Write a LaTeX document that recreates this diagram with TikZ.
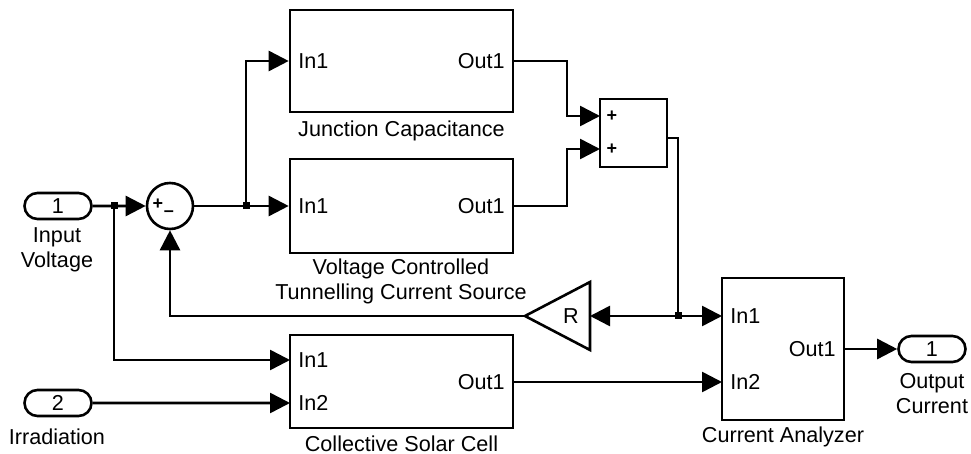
\documentclass[tikz,border=0pt]{standalone}
\usepackage{fontspec}
\setmainfont{Liberation Sans}
\usetikzlibrary{arrows.meta,shapes.misc}
\newcommand{\sigfont}{\fontsize{10.8}{12.5}\selectfont}

\begin{document}
\begin{tikzpicture}[x=0.5pt,y=-0.5pt,
    blk/.style={draw,line width=1.3pt,inner sep=0pt},
    port/.style={rounded rectangle,draw,line width=1.3pt,minimum width=33.5pt,minimum height=13pt,inner sep=0pt,font=\sigfont},
    sumc/.style={circle,draw,line width=1.3pt,minimum size=23pt,inner sep=0pt},
    pin/.style={inner sep=0pt,font=\sigfont},
    blkcap/.style={align=center,inner sep=0pt,font=\sigfont},
    sgn/.style={inner sep=0pt,font=\fontsize{9}{9}\selectfont\bfseries},
    dot/.style={fill,minimum size=3.5pt,inner sep=0pt},
    wire/.style={line width=1.3pt},
    sig/.style={wire,-{Triangle[length=10pt,width=10pt]}}
  ]
    \useasboundingbox (0,0) rectangle (971,454);
    % sources and sink
    \node[port] (vin) at (58,206) {1};
    \node[blkcap] (vinlbl) at (57,250) {Input\\Voltage};
    \node[port] (irr) at (58,403) {2};
    \node[blkcap] (irrlbl) at (57,437) {Irradiation};
    \node[port] (iout) at (932,349) {1};
    \node[blkcap] (ioutlbl) at (932,394) {Output\\Current};
    % sum of input and feedback
    \node[sumc] (sum) at (170,206) {};
    \node[sgn] (sumplus) at (158,204) {+};
    \node[sgn] (summinus) at (169,214) {--};
    % subsystems
    \node[blk,minimum width=111.5pt,minimum height=51pt] (jcap) at (401.5,61) {};
    \node[pin,anchor=west] (jcapin) at (298,61) {In1};
    \node[pin,anchor=east] (jcapout) at (505,61) {Out1};
    \node[blkcap] (jcaplbl) at (401.5,131) {Junction Capacitance};
    \node[blk,minimum width=111.5pt,minimum height=47pt] (vctcs) at (401.5,206) {};
    \node[pin,anchor=west] (vctcsin) at (298,206) {In1};
    \node[pin,anchor=east] (vctcsout) at (505,206) {Out1};
    \node[blkcap] (vctcslbl) at (401,281) {Voltage Controlled\\Tunnelling Current Source};
    \node[blk,minimum width=111.5pt,minimum height=46.5pt] (csc) at (401.5,381.5) {};
    \node[pin,anchor=west] (cscin1) at (298,360) {In1};
    \node[pin,anchor=west] (cscin2) at (298,403) {In2};
    \node[pin,anchor=east] (cscout) at (505,382) {Out1};
    \node[blkcap] (csclbl) at (401.5,444) {Collective Solar Cell};
    \node[blk,minimum width=33.5pt,minimum height=34pt] (add) at (633.5,133) {};
    \node[sgn] (addp1) at (612,116) {+};
    \node[sgn] (addp2) at (612,149) {+};
    \node[blk,minimum width=61pt,minimum height=71pt] (anlz) at (783,349) {};
    \node[pin,anchor=west] (anlzin1) at (730,316) {In1};
    \node[pin,anchor=west] (anlzin2) at (730,382) {In2};
    \node[pin,anchor=east] (anlzout) at (836,349) {Out1};
    \node[blkcap] (anlzlbl) at (783,437) {Current Analyzer};
    % gain R
    \coordinate (gtip) at (525,316);
    \coordinate (gin) at (590,316);
    \draw[wire,line join=miter] (gtip) -- (590,282) -- (590,350) -- cycle;
    \node[font=\sigfont,inner sep=0pt] (gain) at (571,316) {R};
    % ports on the blocks
    \coordinate (csc-in1) at (290,360);
    \coordinate (csc-in2) at (290,403);
    \coordinate (csc-out) at (513,382);
    \coordinate (an-in1) at (722,316);
    \coordinate (an-in2) at (722,382);
    \coordinate (add-in1) at (600,116);
    \coordinate (add-in2) at (600,149);
    \coordinate (add-out) at (667,138);
    \coordinate (bend) at (567,0);
    \coordinate (j1) at (114,206);
    \coordinate (j2) at (246,206);
    \coordinate (j3) at (678,316);
    % signals
    \draw[sig] (vin) -- (sum);
    \draw[sig] (sum) -- (vctcs);
    \draw[sig] (j2) |- (jcap.west);
    \draw[sig] (j1) |- (csc-in1);
    \draw[sig] (irr) -- (csc-in2);
    \draw[sig] (jcap.east) -| (bend |- add-in1) -- (add-in1);
    \draw[sig] (vctcs.east) -| (bend |- add-in2) -- (add-in2);
    \draw[wire] (add-out) -| (j3);
    \draw[sig] (j3) -- (gin);
    \draw[sig] (j3) -- (an-in1);
    \draw[sig] (gtip) -| (sum.south);
    \draw[sig] (csc-out) -- (an-in2);
    \draw[sig] (anlz.east) -- (iout);
    \node[dot] (j1dot) at (j1) {};
    \node[dot] (j2dot) at (j2) {};
    \node[dot] (j3dot) at (j3) {};
  \end{tikzpicture}
\end{document}
